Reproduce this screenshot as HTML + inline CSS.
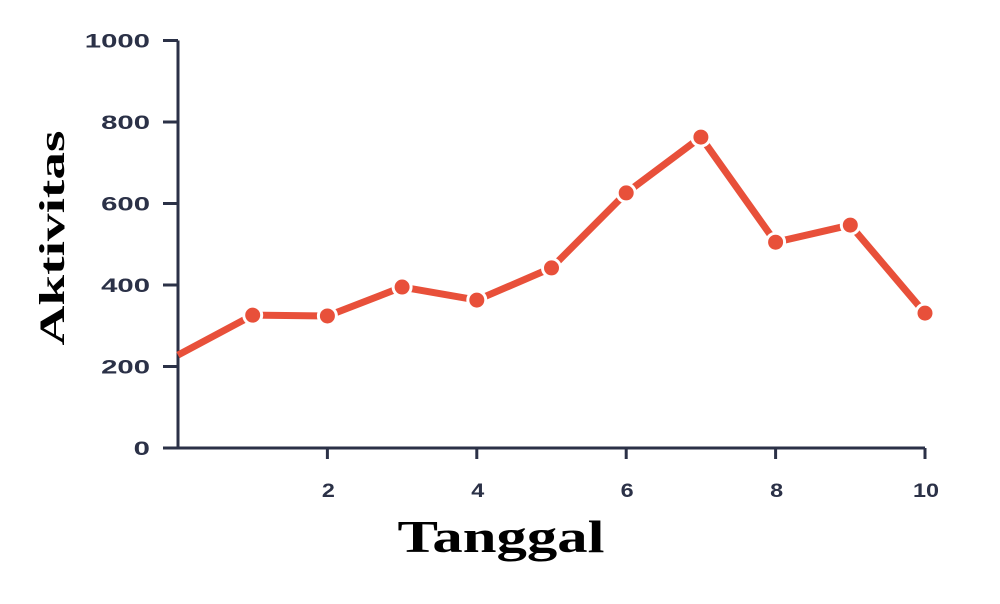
<!DOCTYPE html>
<html><head><meta charset="utf-8"><style>
body{margin:0;background:#fff;width:1000px;height:599px;overflow:hidden}
svg text{font-family:"Liberation Sans",sans-serif}
</style></head><body>
<svg id="chart" width="1000" height="599" viewBox="0 0 1000 599" xmlns="http://www.w3.org/2000/svg">
<g id="axes"></g><g id="series"></g>
<text transform="translate(64,238) rotate(-90)" text-anchor="middle" textLength="215" lengthAdjust="spacingAndGlyphs" font-weight="bold" font-size="36" fill="#000" style="font-family:'Liberation Serif',serif">Aktivitas</text>
<text x="501" y="552" text-anchor="middle" textLength="207" lengthAdjust="spacingAndGlyphs" font-weight="bold" font-size="46" fill="#000" style="font-family:'Liberation Serif',serif">Tanggal</text>
</svg>
<script>
const xValues=[0,1,2,3,4,5,6,7,8,9,10];
const yValues=[228,326,324,395,363,442,626,763,505,547,331];
const yTicks=[0,200,400,600,800,1000];
const xTicks=[2,4,6,8,10];
const NS="http://www.w3.org/2000/svg";
const X=v=>178+v*74.7;
const Y=v=>448-v*0.4075;
const axes=document.getElementById('axes'),series=document.getElementById('series');
function mk(tag,attrs,parent){const e=document.createElementNS(NS,tag);for(const k in attrs)e.setAttribute(k,attrs[k]);parent.appendChild(e);return e;}
const C="#2b3147";
let a=mk('path',{d:`M${X(0)},${Y(1000)} V${Y(0)} H${X(10)}`,fill:'none',stroke:C,'stroke-width':3},axes);


yTicks.forEach(t=>{
 const l=mk('line',{x1:163,x2:178,y1:Y(t),y2:Y(t),stroke:C,'stroke-width':3},axes);
 
 
 const s=String(t);
 const tx=mk('text',{x:150,y:Y(t)+7,'text-anchor':'end','font-size':19,'font-weight':'bold',fill:C,textLength:s.length*16.3,lengthAdjust:'spacingAndGlyphs'},axes);
 tx.textContent=s;
 
 
});
xTicks.forEach(t=>{
 const l=mk('line',{x1:X(t),x2:X(t),y1:448,y2:459,stroke:C,'stroke-width':3},axes);
 
 
 const s=String(t);
 const tx=mk('text',{x:X(t)+1,y:497,'text-anchor':'middle','font-size':19,'font-weight':'bold',fill:C,textLength:s.length*13,lengthAdjust:'spacingAndGlyphs'},axes);
 tx.textContent=s;
 
 
});
const line=mk('polyline',{points:xValues.map((x,i)=>X(x)+','+Y(yValues[i])).join(' '),fill:'none',stroke:'#e8503a','stroke-width':7,'stroke-linejoin':'round'},series);


xValues.forEach((x,i)=>{
 if(i===0)return;
 const c=mk('circle',{cx:X(x),cy:Y(yValues[i]),r:9,fill:'#e8503a',stroke:'#fff','stroke-width':3},series);
 
 
});
</script>
</body></html>
